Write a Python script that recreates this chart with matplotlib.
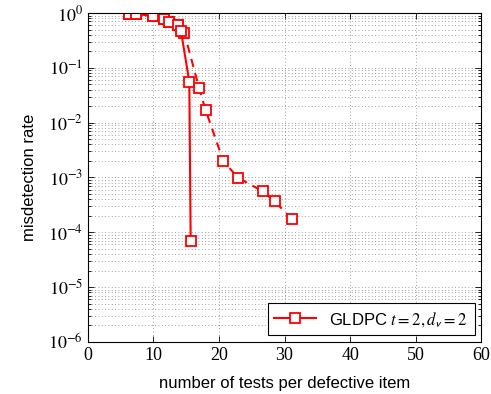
import numpy as np
import matplotlib
matplotlib.use('Agg')
import matplotlib.pyplot as plt
from matplotlib.ticker import LogLocator, NullFormatter

# solid curve (legend entry)
x_solid = [6.3, 7.3, 10.0, 11.6, 12.4, 13.7, 14.2, 15.47, 15.68]
y_solid = [0.96, 0.96, 0.88, 0.78, 0.69, 0.60, 0.47, 0.0557, 7.0e-5]

# dashed curve
x_dash = [6.3, 7.3, 10.0, 11.6, 12.4, 13.7, 14.7, 16.95, 17.97, 20.66, 22.9, 26.67, 28.5, 31.1]
y_dash = [0.96, 0.96, 0.88, 0.78, 0.69, 0.60, 0.44, 0.0434, 0.0168, 0.0020, 9.9e-4, 5.6e-4, 3.66e-4, 1.76e-4]

legend_label = r'GLDPC $t=2, d_{\mathsf{v}}=2$'

plt.rcParams['mathtext.fontset'] = 'stix'
plt.rcParams['font.family'] = ['Liberation Sans', 'DejaVu Sans']

fig = plt.figure(figsize=(4.91, 3.94), dpi=100)
ax = fig.add_axes([0.179, 0.132, 0.801, 0.835])

ax.plot(x_dash, y_dash, color='red', linestyle=(0, (4, 3)), linewidth=1.5,
        marker='s', markersize=7, markerfacecolor='white', markeredgecolor='red',
        markeredgewidth=1.3)
ax.plot(x_solid, y_solid, color='red', linestyle='-', linewidth=1.5,
        marker='s', markersize=7, markerfacecolor='white', markeredgecolor='red',
        markeredgewidth=1.3, label=legend_label)

ax.set_yscale('log')
ax.set_xlim(0, 60)
ax.set_ylim(1e-6, 1)
ax.set_xticks([0, 10, 20, 30, 40, 50, 60])
ax.set_yticks([10.0 ** k for k in range(-6, 1)])
ax.yaxis.set_minor_locator(LogLocator(base=10, subs=np.arange(2, 10), numticks=20))
ax.yaxis.set_minor_formatter(NullFormatter())

for lab in ax.get_xticklabels() + ax.get_yticklabels():
    lab.set_family('Liberation Serif')
    lab.set_fontsize(13)
ax.set_yticklabels([r'$10^{%d}$' % k for k in range(-6, 1)])

ax.tick_params(which='both', direction='in', top=True, right=True, width=0.6)
ax.tick_params(which='major', length=4)
ax.tick_params(which='minor', length=2)

ax.grid(which='both', linestyle=(0, (1, 3)), color='0.5', linewidth=0.6)

ax.set_xlabel('number of tests per defective item', fontsize=12, labelpad=9)
ax.set_ylabel('misdetection rate', fontsize=12, labelpad=8)

leg = ax.legend(loc='lower right', fontsize=12, fancybox=False, framealpha=1,
                edgecolor='black', borderaxespad=0.4, handlelength=2.5)
leg.get_frame().set_linewidth(0.8)

plt.savefig('out.png', dpi=100)
